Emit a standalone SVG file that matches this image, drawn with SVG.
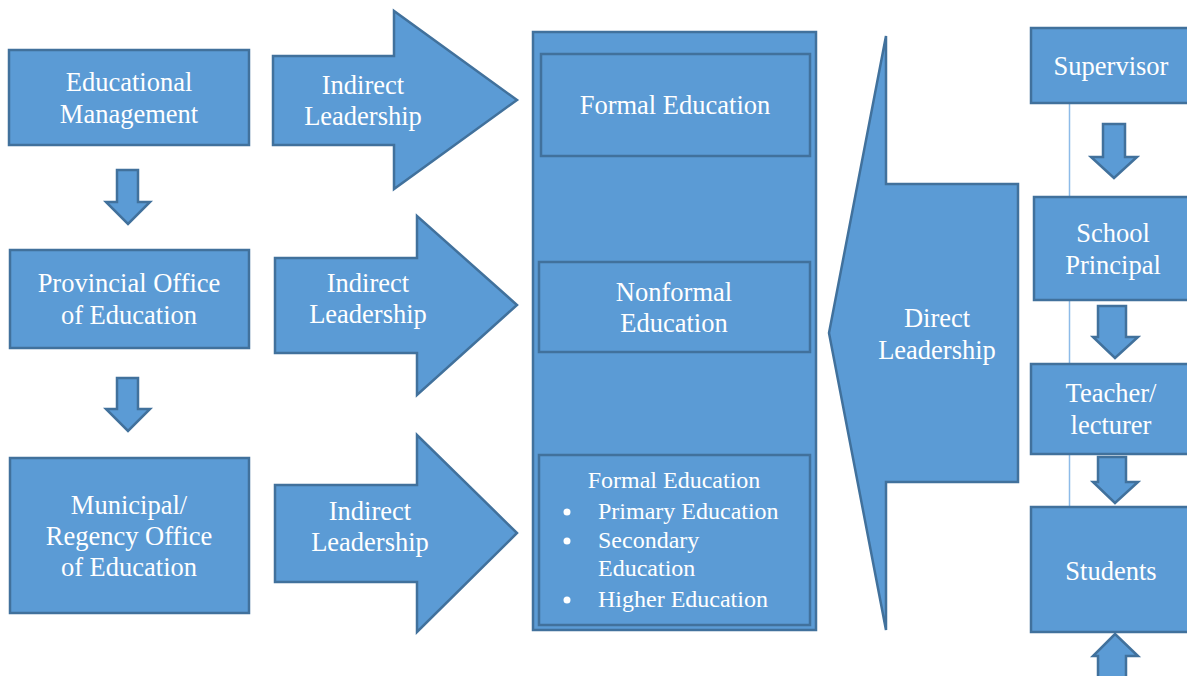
<svg xmlns="http://www.w3.org/2000/svg" width="1187" height="676" viewBox="0 0 1187 676">
  <style>
    .shape { fill: #5b9bd5; stroke: #41719c; stroke-width: 2.5; stroke-linejoin: miter; }
    .label { font-family: 'Liberation Serif', 'DejaVu Serif', 'Times New Roman', Times, serif; font-size: 26.5px; fill: #ffffff; text-anchor: middle; }
    .small { font-family: 'Liberation Serif', 'DejaVu Serif', 'Times New Roman', Times, serif; font-size: 24px; fill: #ffffff; }
    .guide { stroke: #8dbbe8; stroke-width: 1.5; fill: none; }
  </style>
  <rect width="1187" height="676" fill="#ffffff"/>

  <!-- vertical guide line behind the right column -->
  <g id="connectors">
    <line class="guide" x1="1069.5" y1="103" x2="1069.5" y2="632"/>
    <!-- left column down arrows -->
    <polygon class="shape" points="117,170 138,170 138,202 150,202 128,224 106,202 117,202"/>
    <polygon class="shape" points="117,378 138,378 138,409 150,409 128,431 106,409 117,409"/>
    <!-- right column down arrows -->
    <polygon class="shape" points="1103,124 1125,124 1125,157 1137,157 1114,178 1091,157 1103,157"/>
    <polygon class="shape" points="1098,306 1126,306 1126,337 1138,337 1115,358 1093,337 1098,337"/>
    <polygon class="shape" points="1098,457 1126,457 1126,482 1138,482 1115,503 1093,482 1098,482"/>
    <!-- upward arrow below Students -->
    <polygon class="shape" points="1115,634 1138,656 1126,656 1126,680 1098,680 1098,656 1093,656"/>
  </g>

  <!-- left column -->
  <g id="educational-management">
    <rect class="shape" x="9" y="50" width="240" height="95"/>
    <text class="label" x="129" y="91">Educational</text>
    <text class="label" x="129" y="123">Management</text>
  </g>
  <g id="provincial-office">
    <rect class="shape" x="10" y="250" width="239" height="98"/>
    <text class="label" x="129" y="292">Provincial Office</text>
    <text class="label" x="129" y="324">of Education</text>
  </g>
  <g id="municipal-office">
    <rect class="shape" x="10" y="458" width="239" height="155"/>
    <text class="label" x="129" y="514">Municipal/</text>
    <text class="label" x="129" y="545">Regency Office</text>
    <text class="label" x="129" y="576">of Education</text>
  </g>

  <!-- indirect leadership arrows -->
  <g id="indirect-1">
    <polygon class="shape" points="273,56 394,56 394,11 517,100 394,189 394,145 273,145"/>
    <text class="label" x="363" y="94">Indirect</text>
    <text class="label" x="363" y="125">Leadership</text>
  </g>
  <g id="indirect-2">
    <polygon class="shape" points="275,258 417,258 417,216 517,305 417,395 417,353 275,353"/>
    <text class="label" x="368" y="292">Indirect</text>
    <text class="label" x="368" y="323">Leadership</text>
  </g>
  <g id="indirect-3">
    <polygon class="shape" points="275,485 417,485 417,435 517,533 417,632 417,582 275,582"/>
    <text class="label" x="370" y="520">Indirect</text>
    <text class="label" x="370" y="551">Leadership</text>
  </g>

  <!-- education sectors -->
  <g id="education-sectors">
    <rect class="shape" x="533" y="32" width="283" height="598"/>
  </g>
  <g id="formal-education">
    <rect class="shape" x="541" y="54" width="269" height="102"/>
    <text class="label" x="675" y="114">Formal Education</text>
  </g>
  <g id="nonformal-education">
    <rect class="shape" x="539" y="262" width="271" height="90"/>
    <text class="label" x="674" y="301">Nonformal</text>
    <text class="label" x="674" y="332">Education</text>
  </g>
  <g id="formal-levels">
    <rect class="shape" x="539" y="455" width="271" height="170"/>
    <text class="small" x="674" y="488" text-anchor="middle">Formal Education</text>
    <circle cx="567" cy="512" r="3.5" fill="#ffffff"/>
    <circle cx="567" cy="541" r="3.5" fill="#ffffff"/>
    <circle cx="567" cy="600" r="3.5" fill="#ffffff"/>
    <text class="small" x="598" y="519">Primary Education</text>
    <text class="small" x="598" y="548">Secondary</text>
    <text class="small" x="598" y="576">Education</text>
    <text class="small" x="598" y="607">Higher Education</text>
  </g>

  <!-- direct leadership callout -->
  <g id="direct-leadership">
    <polygon class="shape" points="886,36 886,184 1018,184 1018,482 886,482 886,630 829,333"/>
    <text class="label" x="937" y="327">Direct</text>
    <text class="label" x="937" y="359">Leadership</text>
  </g>

  <!-- right column -->
  <g id="supervisor">
    <rect class="shape" x="1031" y="28" width="160" height="75"/>
    <text class="label" x="1111" y="75">Supervisor</text>
  </g>
  <g id="school-principal">
    <rect class="shape" x="1034" y="197" width="157" height="103"/>
    <text class="label" x="1113" y="242">School</text>
    <text class="label" x="1113" y="274">Principal</text>
  </g>
  <g id="teacher-lecturer">
    <rect class="shape" x="1031" y="364" width="160" height="90"/>
    <text class="label" x="1111" y="402">Teacher/</text>
    <text class="label" x="1111" y="434">lecturer</text>
  </g>
  <g id="students">
    <rect class="shape" x="1031" y="507" width="160" height="125"/>
    <text class="label" x="1111" y="580">Students</text>
  </g>
</svg>
